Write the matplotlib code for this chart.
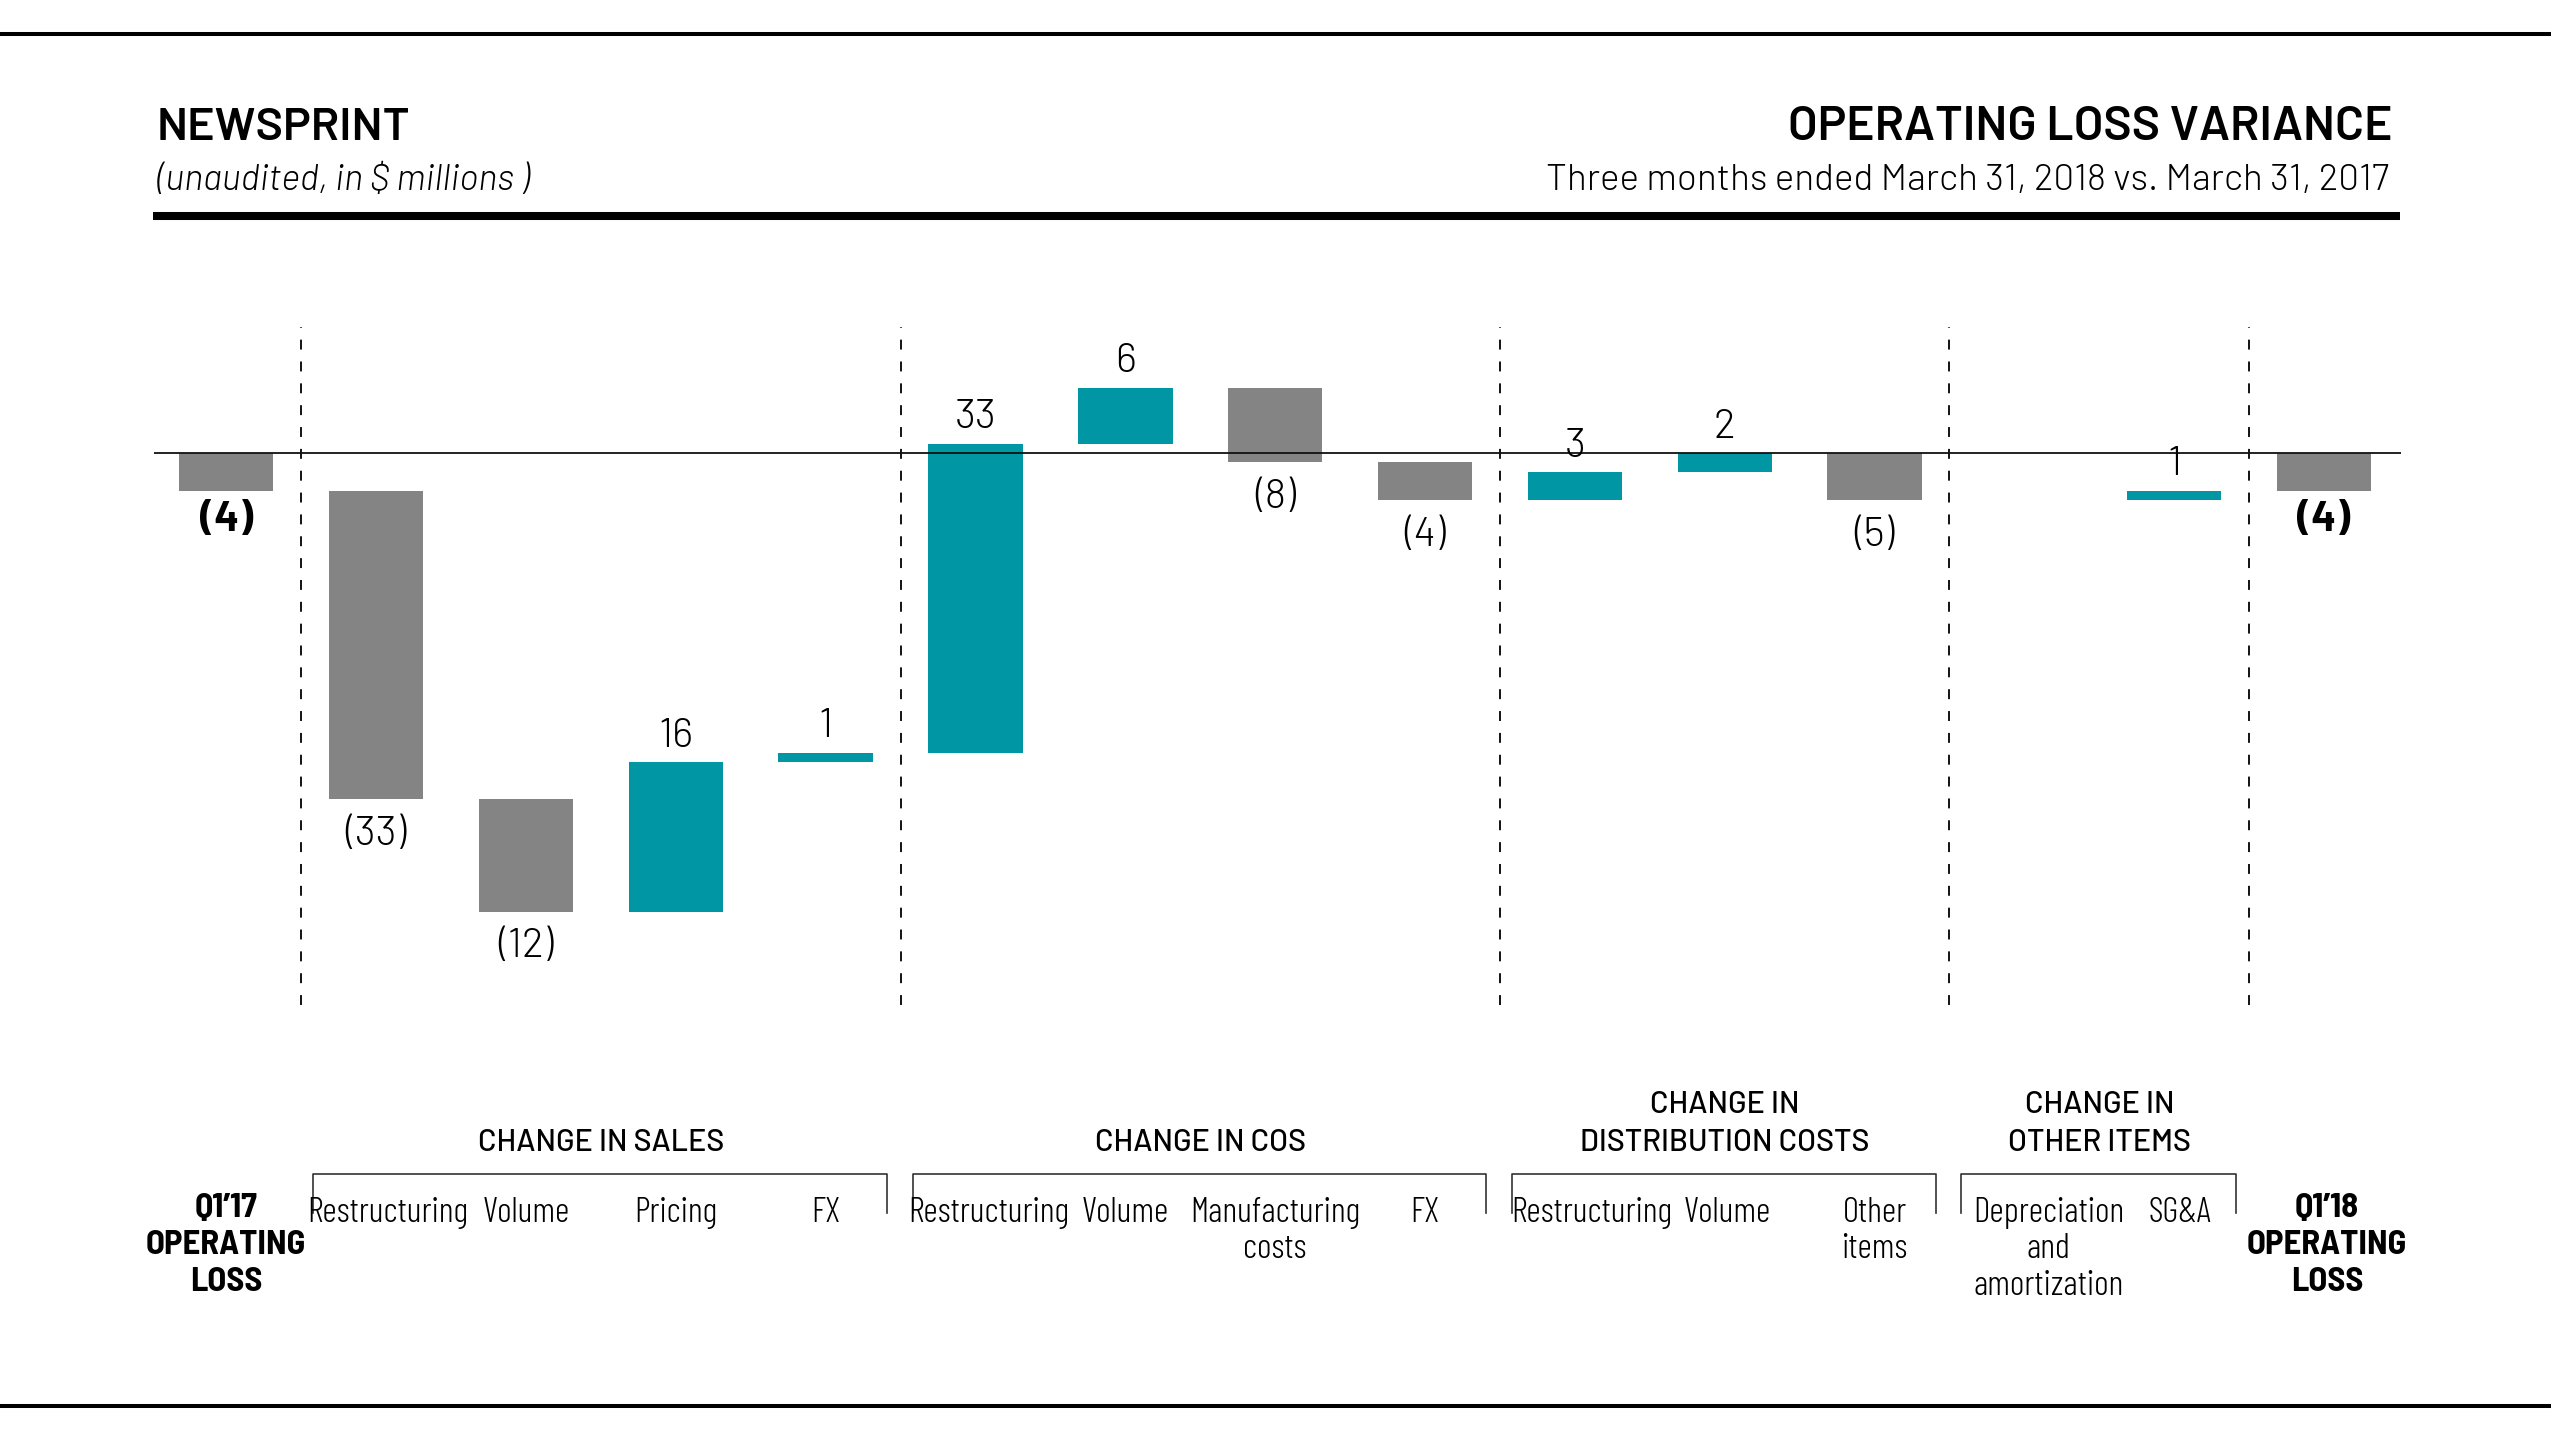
import matplotlib
matplotlib.use("Agg")
import matplotlib.pyplot as plt
import matplotlib.transforms as mtransforms
from matplotlib.lines import Line2D

plt.rcParams['font.family'] = ['Barlow Condensed', 'DejaVu Sans']

# waterfall data, $ millions
categories = ["Q1\u201917\nOPERATING\nLOSS", "Restructuring", "Volume", "Pricing", "FX",
              "Restructuring", "Volume", "Manufacturing\ncosts", "FX",
              "Restructuring", "Volume", "Other\nitems",
              "Depreciation\nand\namortization", "SG&A", "Q1\u201918\nOPERATING\nLOSS"]
values = [-4, -33, -12, 16, 1, 33, 6, -8, -4, 3, 2, -5, 0, 1, -4]
is_total = [True] + [False] * 13 + [True]

group_titles = ["CHANGE IN SALES", "CHANGE IN COS",
                "CHANGE IN\nDISTRIBUTION COSTS", "CHANGE IN\nOTHER ITEMS"]
group_spans = [(1, 4), (5, 8), (9, 11), (12, 13)]

# small horizontal nudges of the category labels (layout only)
label_dx = [0, 0.08, 0, 0, 0, 0.09, 0, 0, 0, 0.11, 0.02, 0, 0.16, 0.04, 0.02]

TEAL = '#0096a4'
GRAY = '#848484'
COND = ['Barlow Condensed', 'DejaVu Sans']
SEMI = ['Barlow Semi Condensed', 'DejaVu Sans']
WIDE = ['Barlow', 'DejaVu Sans']

fig = plt.figure(figsize=(25.51, 14.34), dpi=100)
ax = fig.add_axes([0, 0, 1, 1])
ax.set_xlim(-1.5095, 15.514)
ax.set_ylim(-104.84, 48.43)
ax.axis('off')
blend = mtransforms.blended_transform_factory(ax.transData, fig.transFigure)

# build the waterfall
bottoms, heights = [], []
running = 0
for v, tot in zip(values, is_total):
    if tot:
        bottoms.append(0)
        running = v
    else:
        bottoms.append(running)
        running += v
    heights.append(v)

x = list(range(len(values)))
colors = [GRAY if (tot or v < 0) else TEAL for v, tot in zip(values, is_total)]
ax.bar(x, heights, bottom=bottoms, width=0.63, color=colors, linewidth=0, zorder=2)

for i, (v, b, tot) in enumerate(zip(values, bottoms, is_total)):
    if v == 0:
        continue
    txt = f"({abs(v)})" if v < 0 else str(v)
    if v > 0:
        off = 11
    else:
        off = -29 if tot else -33
    ax.annotate(txt, (i, b + v), xytext=(0, off), textcoords='offset points',
                ha='center', va='baseline', fontsize=29.5, family=WIDE,
                fontweight=700 if tot else 300, zorder=4)

# zero line and dashed separators
ax.hlines(0, -0.48, len(values) - 1 + 0.51, color='#111111', lw=1.3, zorder=3)
seps = [s - 0.5 for s, e in group_spans] + [group_spans[-1][1] + 0.5]
ax.vlines(seps, -59, 13.5, color='black', lw=1.3, linestyles=(0, (5.5, 6.6)), zorder=1)


def put_lines(xp, y0, text, step, **kw):
    for j, line in enumerate(text.split("\n")):
        ax.text(xp, y0 - j * step, line, transform=blend, ha='center',
                va='baseline', **kw)


# category labels
for i, (lab, tot) in enumerate(zip(categories, is_total)):
    if tot:
        put_lines(i + label_dx[i], 0.1513, lab, 0.0258, fontsize=25, fontweight=700,
                  family=SEMI)
    else:
        put_lines(i + label_dx[i], 0.1478, lab, 0.0254, fontsize=25.5, fontweight=300,
                  family=COND)

# group brackets and titles
for title, (s, e) in zip(group_titles, group_spans):
    x0, x1 = s - 0.42, e + 0.41
    ax.add_line(Line2D([x0, x0, x1, x1], [0.1541, 0.1813, 0.1813, 0.1541],
                       transform=blend, color='#333333', lw=1.2))
    n = title.count("\n")
    put_lines((s + e) / 2, 0.1974 + n * 0.0265, title, 0.0265, fontsize=22,
              fontweight=500, family=WIDE)

# header
fig.text(0.0615, 0.9024, "NEWSPRINT", fontsize=33.5, fontweight=600, family=WIDE,
         va='baseline')
fig.text(0.0615, 0.8675, "(unaudited, in $ millions )", fontsize=26, style='italic',
         fontweight=300, family=WIDE, va='baseline')
fig.text(0.9377, 0.9024, "OPERATING LOSS VARIANCE", fontsize=34.5, fontweight=600,
         family=WIDE, va='baseline', ha='right')
fig.text(0.9365, 0.8675, "Three months ended March 31, 2018 vs. March 31, 2017",
         fontsize=26.5, fontweight=300, family=WIDE, va='baseline', ha='right')

# rules
fig.add_artist(Line2D([0, 1], [0.9763, 0.9763], transform=fig.transFigure,
                      color='black', lw=2.9))
fig.add_artist(Line2D([0, 1], [0.0195, 0.0195], transform=fig.transFigure,
                      color='black', lw=2.9))
fig.add_artist(Line2D([0.060, 0.941], [0.8494, 0.8494], transform=fig.transFigure,
                      color='black', lw=5.8, solid_capstyle='butt'))

fig.savefig('out.png', dpi=100)
